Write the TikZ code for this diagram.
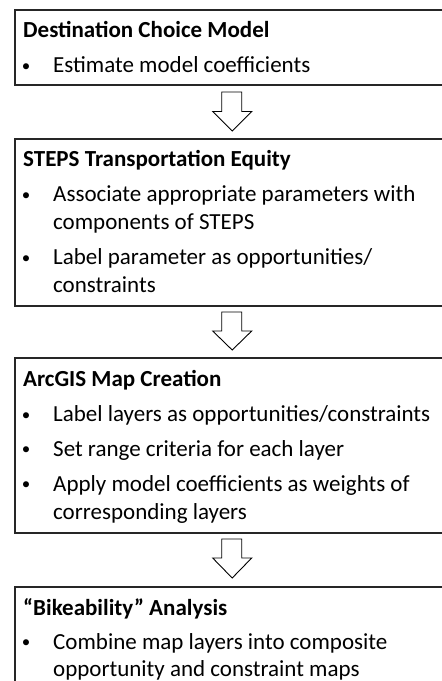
\documentclass[tikz,border=0pt]{standalone}
\usepackage{fontspec}
\setmainfont{Carlito}
\begin{document}
\begin{tikzpicture}[x=1pt,y=-1pt,
  stepbox/.style={draw=black!85, line width=1.6pt, anchor=north west, inner sep=0pt, minimum width=446pt},
  ttl/.style={anchor=base west, inner sep=0pt, font=\bfseries\fontsize{23}{27}\selectfont},
  itm/.style={anchor=base west, inner sep=0pt, font=\fontsize{23}{27}\selectfont},
  bul/.style={anchor=base, inner sep=0pt, font=\fontsize{17}{20}\selectfont},
  blockarrow/.style={draw=black, line width=0.9pt, fill=white, line join=miter}]
\useasboundingbox (0,0) rectangle (442,681);
\clip (0,0) rectangle (442,681);

% boxes
\node[stepbox, minimum height=75pt] (b1) at (14,9) {};
\node[stepbox, minimum height=167pt] (b2) at (14,138) {};
\node[stepbox, minimum height=175pt] (b3) at (14,357) {};
\node[stepbox, minimum height=130pt] (b4) at (14,586) {};

% box 1
\node[ttl] (t1) at (23,37) {Destination Choice Model};
\node[bul] (d11) at (26,71) {•};
\node[itm] (l11) at (53,72.5) {Estimate model coefficients};

% box 2
\node[ttl] (t2) at (23,166.5) {STEPS Transportation Equity};
\node[bul] (d21) at (26,200) {•};
\node[itm] (l21) at (53,201.5) {Associate appropriate parameters with};
\node[itm] (l22) at (53,229.5) {components of STEPS};
\node[bul] (d22) at (26,263) {•};
\node[itm] (l23) at (53,264.5) {Label parameter as opportunities/};
\node[itm] (l24) at (53,292.5) {constraints};

% box 3
\node[ttl] (t3) at (23,386.5) {ArcGIS Map Creation};
\node[bul] (d31) at (26,420) {•};
\node[itm] (l31) at (53,421.5) {Label layers as opportunities/constraints};
\node[bul] (d32) at (26,454.5) {•};
\node[itm] (l32) at (53,456) {Set range criteria for each layer};
\node[bul] (d33) at (26,489.5) {•};
\node[itm] (l33) at (53,491) {Apply model coefficients as weights of};
\node[itm] (l34) at (53,519.5) {corresponding layers};

% box 4
\node[ttl] (t4) at (23,615) {“Bikeability” Analysis};
\node[bul] (d41) at (26,647.5) {•};
\node[itm] (l41) at (53,649) {Combine map layers into composite};
\node[itm] (l42) at (53,676.5) {opportunity and constraint maps};

% block arrows
\foreach \n/\top/\wing/\tip in {a1/92/111.5/131, a2/312/331/350, a3/539/558/578}{
  \coordinate (\n) at (232.2,\tip);
  \draw[blockarrow] (221.7,\top) -- (241.7,\top) -- (241.7,\wing) -- (251.7,\wing)
    -- (\n) -- (212.7,\wing) -- (221.7,\wing) -- cycle;
}
\end{tikzpicture}
\end{document}
